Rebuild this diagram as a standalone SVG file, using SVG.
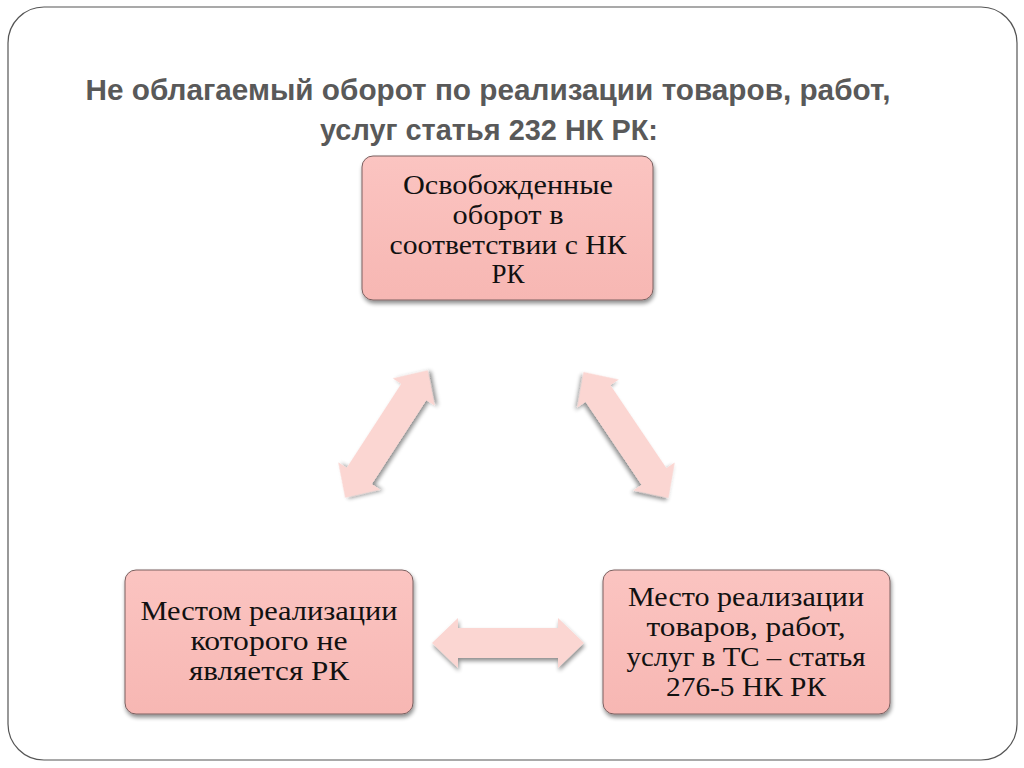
<svg xmlns="http://www.w3.org/2000/svg" width="1024" height="768" viewBox="0 0 1024 768">
<defs>
<filter id="sh" x="-20%" y="-20%" width="140%" height="150%">
<feGaussianBlur in="SourceAlpha" stdDeviation="2"/>
<feOffset dx="1" dy="3" result="b"/>
<feComponentTransfer><feFuncA type="linear" slope="0.45"/></feComponentTransfer>
<feMerge><feMergeNode/><feMergeNode in="SourceGraphic"/></feMerge>
</filter>
<linearGradient id="bg" x1="0" y1="0" x2="0" y2="1">
<stop offset="0" stop-color="#fbc4c1"/>
<stop offset="1" stop-color="#f7b7b3"/>
</linearGradient>
<path id="arr" d="M-76,0 L-50,-25 L-50,-15 L50,-15 L50,-25 L76,0 L50,25 L50,15 L-50,15 L-50,25 Z"/>
<style>
.box{fill:url(#bg);stroke:#7a6060;stroke-width:1;filter:url(#sh)}
.t{font-family:"Liberation Serif","DejaVu Serif",serif;font-size:27px;fill:#111;text-anchor:middle}
.ttl{font-family:"Liberation Sans","DejaVu Sans",sans-serif;font-weight:bold;font-size:30px;fill:#595959;text-anchor:middle}
.a{fill:#fbd6d2;filter:url(#sh)}
</style>
</defs>
<rect width="1024" height="768" fill="#ffffff"/>
<rect x="8" y="7" width="1009" height="753" rx="36" ry="36" fill="none" stroke="#555" stroke-width="1.2"/>
<g id="title">
<text class="ttl" x="488" y="100" textLength="805" lengthAdjust="spacingAndGlyphs">Не облагаемый оборот по реализации товаров, работ,</text>
<text class="ttl" x="489" y="140" textLength="338" lengthAdjust="spacingAndGlyphs">услуг статья 232 НК РК:</text>
</g>
<g id="connectors">
<use href="#arr" class="a" transform="translate(386.5,434) rotate(-57)"/>
<use href="#arr" class="a" transform="translate(626,435) rotate(56)"/>
<use href="#arr" class="a" transform="translate(508,643)"/>
</g>
<g id="node-top">
<rect class="box" x="362" y="156" width="291" height="144" rx="11"/>
<text class="t" x="508" y="194" textLength="210" lengthAdjust="spacingAndGlyphs">Освобожденные</text>
<text class="t" x="508" y="224" textLength="111" lengthAdjust="spacingAndGlyphs">оборот в</text>
<text class="t" x="508" y="254" textLength="237" lengthAdjust="spacingAndGlyphs">соответствии с НК</text>
<text class="t" x="508" y="283">РК</text>
</g>
<g id="node-left">
<rect class="box" x="125" y="570" width="288" height="144" rx="11"/>
<text class="t" x="269" y="620" textLength="257" lengthAdjust="spacingAndGlyphs">Местом реализации</text>
<text class="t" x="269" y="650" textLength="157" lengthAdjust="spacingAndGlyphs">которого не</text>
<text class="t" x="269" y="680" textLength="160" lengthAdjust="spacingAndGlyphs">является РК</text>
</g>
<g id="node-right">
<rect class="box" x="603" y="570" width="287" height="144" rx="11"/>
<text class="t" x="746" y="606" textLength="236" lengthAdjust="spacingAndGlyphs">Место реализации</text>
<text class="t" x="746" y="636" textLength="199" lengthAdjust="spacingAndGlyphs">товаров, работ,</text>
<text class="t" x="746" y="666" textLength="239" lengthAdjust="spacingAndGlyphs">услуг в ТС – статья</text>
<text class="t" x="746" y="696" textLength="160" lengthAdjust="spacingAndGlyphs">276-5 НК РК</text>
</g>
</svg>
